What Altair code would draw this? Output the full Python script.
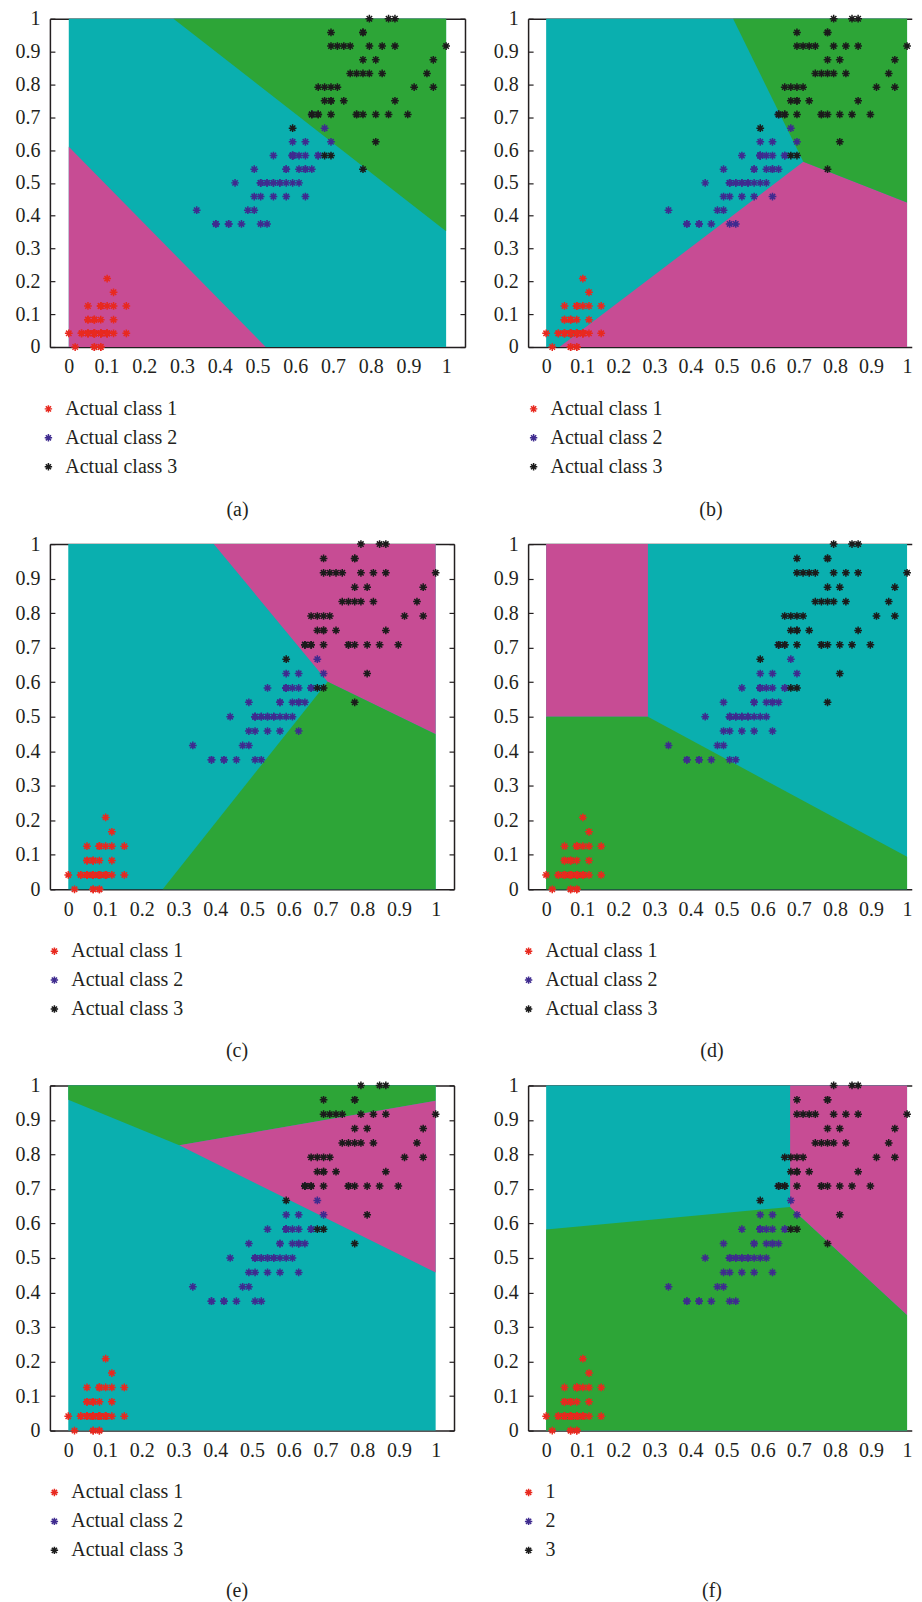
import altair as alt
import pandas as pd

# ---------------- data (petal length / petal width, cm) ----------------
class1_length = [1.4, 1.4, 1.3, 1.5, 1.4, 1.7, 1.4, 1.5, 1.4, 1.5, 1.5, 1.6, 1.4, 1.1, 1.2, 1.5, 1.3, 1.4, 1.7, 1.5,
                 1.7, 1.5, 1.0, 1.7, 1.9, 1.6, 1.6, 1.5, 1.4, 1.6, 1.6, 1.5, 1.5, 1.4, 1.5, 1.2, 1.3, 1.4, 1.3, 1.5,
                 1.3, 1.3, 1.3, 1.6, 1.9, 1.4, 1.6, 1.4, 1.5, 1.4]
class1_width = [0.2, 0.2, 0.2, 0.2, 0.2, 0.4, 0.3, 0.2, 0.2, 0.1, 0.2, 0.2, 0.1, 0.1, 0.2, 0.4, 0.4, 0.3, 0.3, 0.3,
                0.2, 0.4, 0.2, 0.5, 0.2, 0.2, 0.4, 0.2, 0.2, 0.2, 0.2, 0.4, 0.1, 0.2, 0.2, 0.2, 0.2, 0.1, 0.2, 0.2,
                0.3, 0.3, 0.2, 0.6, 0.4, 0.3, 0.2, 0.2, 0.2, 0.2]
class2_length = [4.7, 4.5, 4.9, 4.0, 4.6, 4.5, 4.7, 3.3, 4.6, 3.9, 3.5, 4.2, 4.0, 4.7, 3.6, 4.4, 4.5, 4.1, 4.5, 3.9,
                 4.8, 4.0, 4.9, 4.7, 4.3, 4.4, 4.8, 5.0, 4.5, 3.5, 3.8, 3.7, 3.9, 5.1, 4.5, 4.5, 4.7, 4.4, 4.1, 4.0,
                 4.4, 4.6, 4.0, 3.3, 4.2, 4.2, 4.2, 4.3, 3.0, 4.1]
class2_width = [1.4, 1.5, 1.5, 1.3, 1.5, 1.3, 1.6, 1.0, 1.3, 1.4, 1.0, 1.5, 1.0, 1.4, 1.3, 1.4, 1.5, 1.0, 1.5, 1.1,
                1.8, 1.3, 1.5, 1.2, 1.3, 1.4, 1.4, 1.7, 1.5, 1.0, 1.1, 1.0, 1.2, 1.6, 1.5, 1.6, 1.5, 1.3, 1.3, 1.3,
                1.2, 1.4, 1.2, 1.0, 1.3, 1.2, 1.3, 1.3, 1.1, 1.3]
class3_length = [6.0, 5.1, 5.9, 5.6, 5.8, 6.6, 4.5, 6.3, 5.8, 6.1, 5.1, 5.3, 5.5, 5.0, 5.1, 5.3, 5.5, 6.7, 6.9, 5.0,
                 5.7, 4.9, 6.7, 4.9, 5.7, 6.0, 4.8, 4.9, 5.6, 5.8, 6.1, 6.4, 5.6, 5.1, 5.6, 6.1, 5.6, 5.5, 4.8, 5.4,
                 5.6, 5.1, 5.1, 5.9, 5.7, 5.2, 5.0, 5.2, 5.4, 5.1]
class3_width = [2.5, 1.9, 2.1, 1.8, 2.2, 2.1, 1.7, 1.8, 1.8, 2.5, 2.0, 1.9, 2.1, 2.0, 2.4, 2.3, 1.8, 2.2, 2.3, 1.5,
                2.3, 2.0, 2.0, 1.8, 2.1, 1.8, 1.8, 1.8, 2.1, 1.6, 1.9, 2.0, 2.2, 1.5, 1.4, 2.3, 2.4, 1.8, 1.8, 2.1,
                2.4, 2.3, 1.9, 2.3, 2.5, 2.3, 1.9, 2.0, 2.3, 1.8]

length_range = [1.0, 6.9]
width_range = [0.1, 2.5]

labels_actual = ["Actual class 1", "Actual class 2", "Actual class 3"]
labels_plain = ["1", "2", "3"]
tick_values = [0, 0.1, 0.2, 0.3, 0.4, 0.5, 0.6, 0.7, 0.8, 0.9, 1]

# decision regions (normalised units): x breakpoints, lower edge, upper edge
regions = {
    "a": [("magenta", [0.0, 0.522], [0.0, 0.0], [0.61, 0.0]),
          ("green", [0.2775, 1.0], [1.0, 0.353], [1.0, 1.0])],
    "b": [("magenta", [0.037, 0.7126, 1.0], [0.0, 0.0, 0.0], [0.0, 0.564, 0.44]),
          ("green", [0.518, 0.7126, 1.0], [1.0, 0.564, 0.44], [1.0, 1.0, 1.0])],
    "c": [("magenta", [0.396, 0.706, 1.0], [1.0, 0.6015, 0.449], [1.0, 1.0, 1.0]),
          ("green", [0.257, 0.706, 1.0], [0.0, 0.0, 0.0], [0.0, 0.6015, 0.449])],
    "d": [("magenta", [0.0, 0.282], [0.5, 0.5], [1.0, 1.0]),
          ("green", [0.0, 0.282, 1.0], [0.0, 0.0, 0.0], [0.5, 0.5, 0.094])],
    "e": [("green", [0.0, 0.302, 1.0], [0.9585, 0.8264, 0.9556], [1.0, 1.0, 1.0]),
          ("magenta", [0.302, 1.0], [0.8264, 0.458], [0.8264, 0.9556])],
    "f": [("green", [0.0, 0.676, 1.0], [0.0, 0.0, 0.0], [0.5825, 0.648, 0.3346]),
          ("magenta", [0.676, 1.0], [0.648, 0.3346], [1.0, 1.0])],
}
background_x = [0.0, 1.0]
background_lo = [0.0, 0.0]
background_hi = [1.0, 1.0]

# ---------------- styles ----------------
FONT = "Liberation Serif"
TEXT = "#231f20"
CYAN = "#0aafaf"
REGION_NAMES = ["magenta", "green"]
REGION_COLORS = ["#c74c94", "#2da537"]
POINT_COLORS = ["#e8291f", "#3f2b8f", "#1b1b1b"]
AST = "M-1,0L1,0M0,-1L0,1M-0.7,-0.7L0.7,0.7M-0.7,0.7L0.7,-0.7"

# ---------------- tables ----------------
rows = []
for cls, (L, W) in enumerate([(class1_length, class1_width), (class2_length, class2_width),
                              (class3_length, class3_width)]):
    for l, w in zip(L, W):
        rows.append({
            "x": (l - length_range[0]) / (length_range[1] - length_range[0]),
            "y": (w - width_range[0]) / (width_range[1] - width_range[0]),
            "actual": labels_actual[cls],
            "plain": labels_plain[cls],
        })
points_df = pd.DataFrame(rows)
bg_df = pd.DataFrame({"x": background_x, "lo": background_lo, "hi": background_hi})


def region_df(key):
    out = []
    for name, xs, lo, hi in regions[key]:
        for a, b, c in zip(xs, lo, hi):
            out.append({"region": name, "x": a, "lo": b, "hi": c})
    return pd.DataFrame(out)


def panel(key, width, height, xmax, labels, field, caption, cap_dx, cap_off, ext, leg_x, right_axis):
    xs = alt.Scale(domain=[-0.05, xmax], nice=False, zero=False)
    ys = alt.Scale(domain=[0, 1], nice=False, zero=False)
    x_bottom = alt.Axis(orient="bottom", values=tick_values, format="~g", title=None, ticks=False,
                        domainColor=TEXT, domainWidth=1.5, labelFont=FONT, labelFontSize=20,
                        labelColor=TEXT, labelPadding=10, labelFlush=False, labelOverlap=False, grid=False)
    x_top = alt.Axis(orient="top", labels=False, ticks=False, title=None, domainColor=TEXT,
                     domainWidth=1.5, grid=False)
    y_left = alt.Axis(orient="left", values=tick_values, format="~g", title=None,
                      tickSize={"expr": "-5"}, tickWidth=1.2, tickColor=TEXT,
                      domainColor=TEXT, domainWidth=1.5, labelFont=FONT, labelFontSize=20,
                      labelColor=TEXT, labelPadding=15, minExtent=ext,
                      labelFlush=False, labelOverlap=False, grid=False)
    y_right = alt.Axis(orient="right", values=tick_values, labels=False, title=None,
                       tickSize={"expr": "-5"}, tickWidth=1.2, tickColor=TEXT,
                       domainColor=TEXT, domainWidth=1.5, grid=False)

    bg = alt.Chart(bg_df).mark_area(color=CYAN, opacity=1).encode(
        x=alt.X("x:Q", scale=xs, axis=x_bottom),
        y=alt.Y("hi:Q", scale=ys, axis=y_left),
        y2="lo:Q",
    )
    areas = alt.Chart(region_df(key)).mark_area(opacity=1).encode(
        x=alt.X("x:Q", scale=xs, axis=x_top),
        y=alt.Y("hi:Q", scale=ys, axis=None),
        y2="lo:Q",
        fill=alt.Fill("region:N", scale=alt.Scale(domain=REGION_NAMES, range=REGION_COLORS), legend=None),
    )
    pts = alt.Chart(points_df).mark_point(shape=AST, filled=False, size=60, strokeWidth=1.5, opacity=1).encode(
        x=alt.X("x:Q", scale=xs, axis=None),
        y=alt.Y("y:Q", scale=ys, axis=y_right if right_axis else None),
        color=alt.Color(f"{field}:N", scale=alt.Scale(domain=labels, range=POINT_COLORS),
                        legend=alt.Legend(orient="none", legendX=leg_x, legendY=height + 52, title=None,
                                          direction="vertical", symbolType=AST, symbolSize=55,
                                          symbolStrokeWidth=1.5, labelFont=FONT, labelFontSize=20,
                                          labelColor=TEXT, rowPadding=9, labelOffset=7, padding=0)),
    )
    return alt.layer(bg, areas, pts).resolve_axis(x="independent", y="independent").properties(
        width=width, height=height,
        title=alt.TitleParams(text=caption, orient="bottom", anchor="middle", frame="group",
                              offset=cap_off, dx=cap_dx, font=FONT, fontSize=20, fontWeight="normal",
                              color=TEXT),
    )


pa = panel("a", 416, 329, 1.05, labels_actual, "actual", "(a)", -20, 23, 38, -11.5, True)
pb = panel("b", 384.5, 329, 1.013, labels_actual, "actual", "(b)", -9, 23, 35, -4.5, False)
pc = panel("c", 405, 346, 1.05, labels_actual, "actual", "(c)", -15, 22, 38, -5.5, True)
pd_ = panel("d", 384.5, 346, 1.013, labels_actual, "actual", "(d)", -8, 22, 35, -9.5, False)
pe = panel("e", 405, 346, 1.05, labels_actual, "actual", "(e)", -15, 21, 38, -5.5, True)
pf = panel("f", 384.5, 346, 1.013, labels_plain, "plain", "(f)", -8, 21, 35, -9.5, False)

chart = alt.concat(
    pa, pb, pc, pd_, pe, pf,
    columns=2, align="each", spacing={"row": 14.5, "column": 27.25},
).resolve_scale(
    x="independent", y="independent", color="independent", fill="independent"
).resolve_legend(color="independent").properties(
    padding={"left": 4, "top": -1, "right": 0, "bottom": 0}
).configure_view(stroke=None).configure_axis(grid=False)

chart.save("out.html", embed_options={"renderer": "svg", "actions": False})
